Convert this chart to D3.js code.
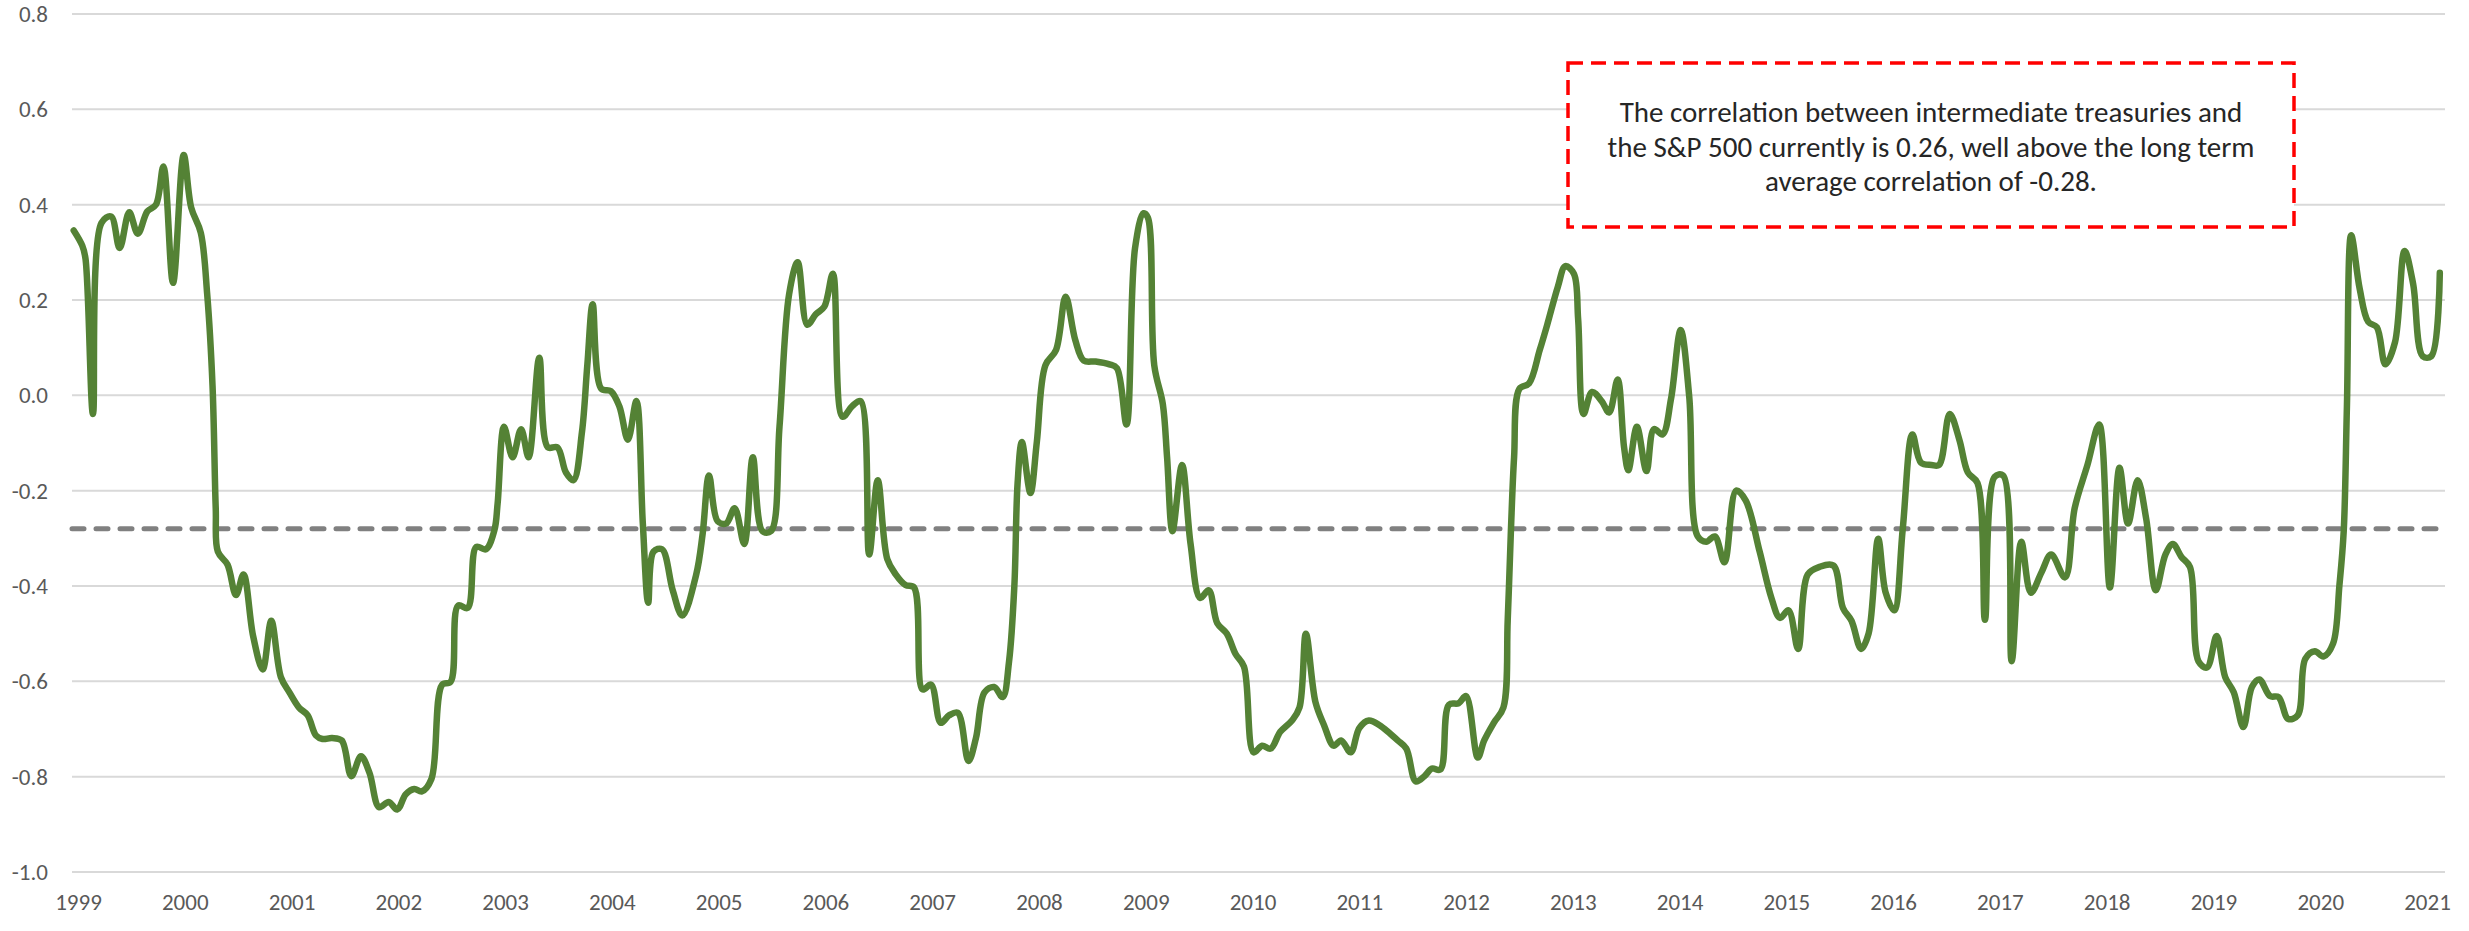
<!DOCTYPE html>
<html>
<head>
<meta charset="utf-8">
<script src="https://cdn.jsdelivr.net/npm/d3@7"></script>
<style>
  html, body { margin: 0; padding: 0; background: #ffffff; }
  svg { display: block; }
</style>
</head>
<body>
<svg id="chart" width="2469" height="931"></svg>
<script>
// ---- data (decimal year, correlation) ----
const dates = [
  1998.96,1999.04,1999.07,1999.14,1999.22,1999.31,1999.39,1999.48,1999.56,1999.65,
  1999.73,1999.80,1999.89,1999.99,2000.06,2000.15,2000.21,2000.26,2000.29,2000.31,
  2000.40,2000.48,2000.55,2000.64,2000.73,2000.81,2000.90,2000.98,2001.07,2001.15,
  2001.23,2001.29,2001.38,2001.47,2001.56,2001.65,2001.73,2001.82,2001.91,2001.99,
  2002.07,2002.15,2002.22,2002.31,2002.41,2002.49,2002.56,2002.65,2002.73,2002.82,
  2002.90,2002.93,2002.99,2003.07,2003.15,2003.22,2003.32,2003.40,2003.49,2003.57,
  2003.64,2003.72,2003.77,2003.82,2003.90,2003.99,2004.07,2004.15,2004.23,2004.29,
  2004.34,2004.39,2004.47,2004.57,2004.66,2004.79,2004.85,2004.91,2004.99,2005.07,
  2005.15,2005.24,2005.32,2005.41,2005.49,2005.57,2005.66,2005.74,2005.83,2005.91,
  2005.99,2006.07,2006.16,2006.25,2006.33,2006.41,2006.49,2006.58,2006.66,2006.75,
  2006.83,2006.91,2006.99,2007.08,2007.16,2007.24,2007.34,2007.41,2007.49,2007.58,
  2007.66,2007.72,2007.77,2007.80,2007.84,2007.92,2007.98,2008.06,2008.16,2008.25,
  2008.34,2008.42,2008.53,2008.66,2008.73,2008.82,2008.90,2008.98,2009.02,2009.08,
  2009.16,2009.20,2009.25,2009.34,2009.42,2009.51,2009.59,2009.67,2009.76,2009.84,
  2009.92,2010.01,2010.09,2010.17,2010.26,2010.37,2010.44,2010.50,2010.59,2010.67,
  2010.76,2010.83,2010.92,2011.00,2011.09,2011.19,2011.28,2011.36,2011.44,2011.53,
  2011.61,2011.68,2011.76,2011.84,2011.93,2012.00,2012.11,2012.17,2012.26,2012.35,
  2012.39,2012.42,2012.45,2012.50,2012.59,2012.69,2012.76,2012.86,2012.93,2013.01,
  2013.05,2013.10,2013.18,2013.27,2013.34,2013.42,2013.48,2013.52,2013.60,2013.69,
  2013.76,2013.84,2013.92,2014.01,2014.09,2014.17,2014.25,2014.33,2014.42,2014.53,
  2014.62,2014.75,2014.86,2014.94,2015.02,2015.11,2015.20,2015.31,2015.44,2015.53,
  2015.61,2015.70,2015.77,2015.86,2015.93,2016.01,2016.09,2016.18,2016.26,2016.36,
  2016.43,2016.53,2016.62,2016.70,2016.79,2016.86,2016.95,2017.03,2017.11,2017.20,
  2017.29,2017.39,2017.48,2017.61,2017.70,2017.82,2017.93,2018.03,2018.12,2018.20,
  2018.29,2018.37,2018.46,2018.55,2018.62,2018.70,2018.78,2018.86,2018.94,2019.03,
  2019.11,2019.19,2019.28,2019.36,2019.43,2019.53,2019.61,2019.70,2019.79,2019.86,
  2019.95,2020.03,2020.12,2020.18,2020.22,2020.25,2020.29,2020.37,2020.45,2020.53,
  2020.61,2020.70,2020.79,2020.87,2020.96,2021.04,2021.12
];
const corr = [
  0.346,0.314,0.287,-0.039,0.362,0.375,0.309,0.384,0.339,0.386,
  0.400,0.480,0.236,0.504,0.394,0.341,0.212,0.020,-0.237,-0.328,
  -0.355,-0.419,-0.376,-0.505,-0.575,-0.473,-0.591,-0.623,-0.655,-0.671,
  -0.714,-0.721,-0.719,-0.724,-0.799,-0.757,-0.792,-0.864,-0.853,-0.869,
  -0.837,-0.826,-0.831,-0.805,-0.607,-0.601,-0.441,-0.446,-0.318,-0.323,
  -0.283,-0.227,-0.066,-0.130,-0.071,-0.130,0.079,-0.109,-0.109,-0.162,
  -0.178,-0.077,0.063,0.191,0.014,0.009,-0.023,-0.093,-0.012,-0.269,
  -0.435,-0.328,-0.323,-0.409,-0.462,-0.376,-0.291,-0.168,-0.264,-0.269,
  -0.237,-0.312,-0.130,-0.285,-0.285,-0.066,0.212,0.279,0.148,0.170,
  0.186,0.255,-0.045,-0.023,-0.012,-0.334,-0.178,-0.344,-0.376,-0.398,
  -0.403,-0.617,-0.607,-0.687,-0.671,-0.666,-0.767,-0.719,-0.623,-0.612,
  -0.633,-0.558,-0.398,-0.184,-0.098,-0.205,-0.098,0.063,0.095,0.207,
  0.116,0.073,0.071,0.065,0.057,-0.061,0.309,0.382,0.373,0.063,
  -0.018,-0.130,-0.285,-0.146,-0.312,-0.425,-0.409,-0.478,-0.500,-0.542,
  -0.569,-0.749,-0.735,-0.741,-0.706,-0.682,-0.655,-0.500,-0.644,-0.692,
  -0.735,-0.724,-0.749,-0.698,-0.682,-0.692,-0.708,-0.724,-0.741,-0.810,
  -0.799,-0.783,-0.785,-0.649,-0.646,-0.631,-0.760,-0.724,-0.687,-0.655,
  -0.473,-0.285,-0.130,0.014,0.025,0.095,0.148,0.228,0.271,0.255,
  0.159,-0.039,0.007,-0.012,-0.036,0.033,-0.109,-0.157,-0.066,-0.159,
  -0.071,-0.082,-0.007,0.137,-0.002,-0.296,-0.307,-0.296,-0.350,-0.200,
  -0.221,-0.328,-0.425,-0.467,-0.451,-0.532,-0.376,-0.360,-0.357,-0.446,
  -0.473,-0.532,-0.500,-0.301,-0.414,-0.451,-0.280,-0.082,-0.141,-0.146,
  -0.146,-0.039,-0.093,-0.162,-0.184,-0.471,-0.171,-0.168,-0.558,-0.307,
  -0.414,-0.371,-0.334,-0.382,-0.237,-0.146,-0.061,-0.403,-0.152,-0.269,
  -0.178,-0.259,-0.409,-0.334,-0.312,-0.339,-0.360,-0.558,-0.571,-0.505,
  -0.591,-0.623,-0.696,-0.612,-0.596,-0.631,-0.633,-0.679,-0.671,-0.553,
  -0.537,-0.548,-0.521,-0.398,-0.285,-0.023,0.336,0.223,0.154,0.143,
  0.065,0.111,0.303,0.234,0.082,0.082,0.257
];
const longTermAverage = -0.28;
const yTicks = [0.8, 0.6, 0.4, 0.2, 0.0, -0.2, -0.4, -0.6, -0.8, -1.0];
const xTicks = [1999,2000,2001,2002,2003,2004,2005,2006,2007,2008,2009,2010,
                2011,2012,2013,2014,2015,2016,2017,2018,2019,2020,2021];
const noteLines = [
  "The correlation between intermediate treasuries and",
  "the S&P 500 currently is 0.26, well above the long term",
  "average correlation of -0.28."
];

// ---- layout ----
const svg = d3.select("#chart");
const plotLeft = 72, plotRight = 2445;
const x = d3.scaleLinear().domain([1999, 2021]).range([78, 2427]);
const y = d3.scaleLinear().domain([-1, 0.8]).range([872, 14]);
const labelFont = "Carlito, Calibri, 'Liberation Sans Narrow', 'Open Sans', sans-serif";

// gridlines
svg.append("g").selectAll("line").data(yTicks).join("line")
  .attr("x1", plotLeft).attr("x2", plotRight)
  .attr("y1", d => y(d)).attr("y2", d => y(d))
  .attr("stroke", "#d9d9d9").attr("stroke-width", 2);

// y axis
const yAxis = svg.append("g").attr("transform", `translate(${plotLeft},0)`)
  .call(d3.axisLeft(y).tickValues(yTicks).tickSize(0).tickPadding(24)
        .tickFormat(d => d.toFixed(1)));
yAxis.select(".domain").remove();
yAxis.selectAll("text").attr("fill", "#595959").attr("font-size", 23)
  .attr("font-family", labelFont);

// x axis
const xAxis = svg.append("g").attr("transform", `translate(0,${y(-1)})`)
  .call(d3.axisBottom(x).tickValues(xTicks).tickSize(0).tickPadding(22)
        .tickFormat(d => String(d)));
xAxis.select(".domain").remove();
xAxis.selectAll("text").attr("fill", "#595959").attr("font-size", 23)
  .attr("font-family", labelFont);

// long term average dashed line
svg.append("line")
  .attr("x1", plotLeft).attr("x2", plotRight)
  .attr("y1", y(longTermAverage)).attr("y2", y(longTermAverage))
  .attr("stroke", "#808080").attr("stroke-width", 5)
  .attr("stroke-dasharray", "12,12").attr("stroke-linecap", "round");

// correlation line
const data = dates.map((d, i) => ({t: d, v: corr[i]}));
svg.append("path").datum(data)
  .attr("fill", "none").attr("stroke", "#548235").attr("stroke-width", 6.5)
  .attr("stroke-linejoin", "round").attr("stroke-linecap", "round")
  .attr("d", d3.line().x(d => x(d.t)).y(d => y(d.v)).curve(d3.curveCatmullRom.alpha(0.5)));

// annotation box
const bx = 1568, byTop = 63, bw = 726, bh = 164;
svg.append("rect").attr("x", bx).attr("y", byTop).attr("width", bw).attr("height", bh)
  .attr("fill", "#ffffff").attr("stroke", "#ff0000").attr("stroke-width", 3.5)
  .attr("stroke-dasharray", "15,8");
svg.append("g").selectAll("text").data(noteLines).join("text")
  .attr("x", bx + bw / 2).attr("y", (d, i) => 122 + i * 34.5)
  .attr("text-anchor", "middle").attr("fill", "#262626")
  .attr("font-size", 29).attr("font-family", labelFont)
  .text(d => d);
</script>
</body>
</html>
